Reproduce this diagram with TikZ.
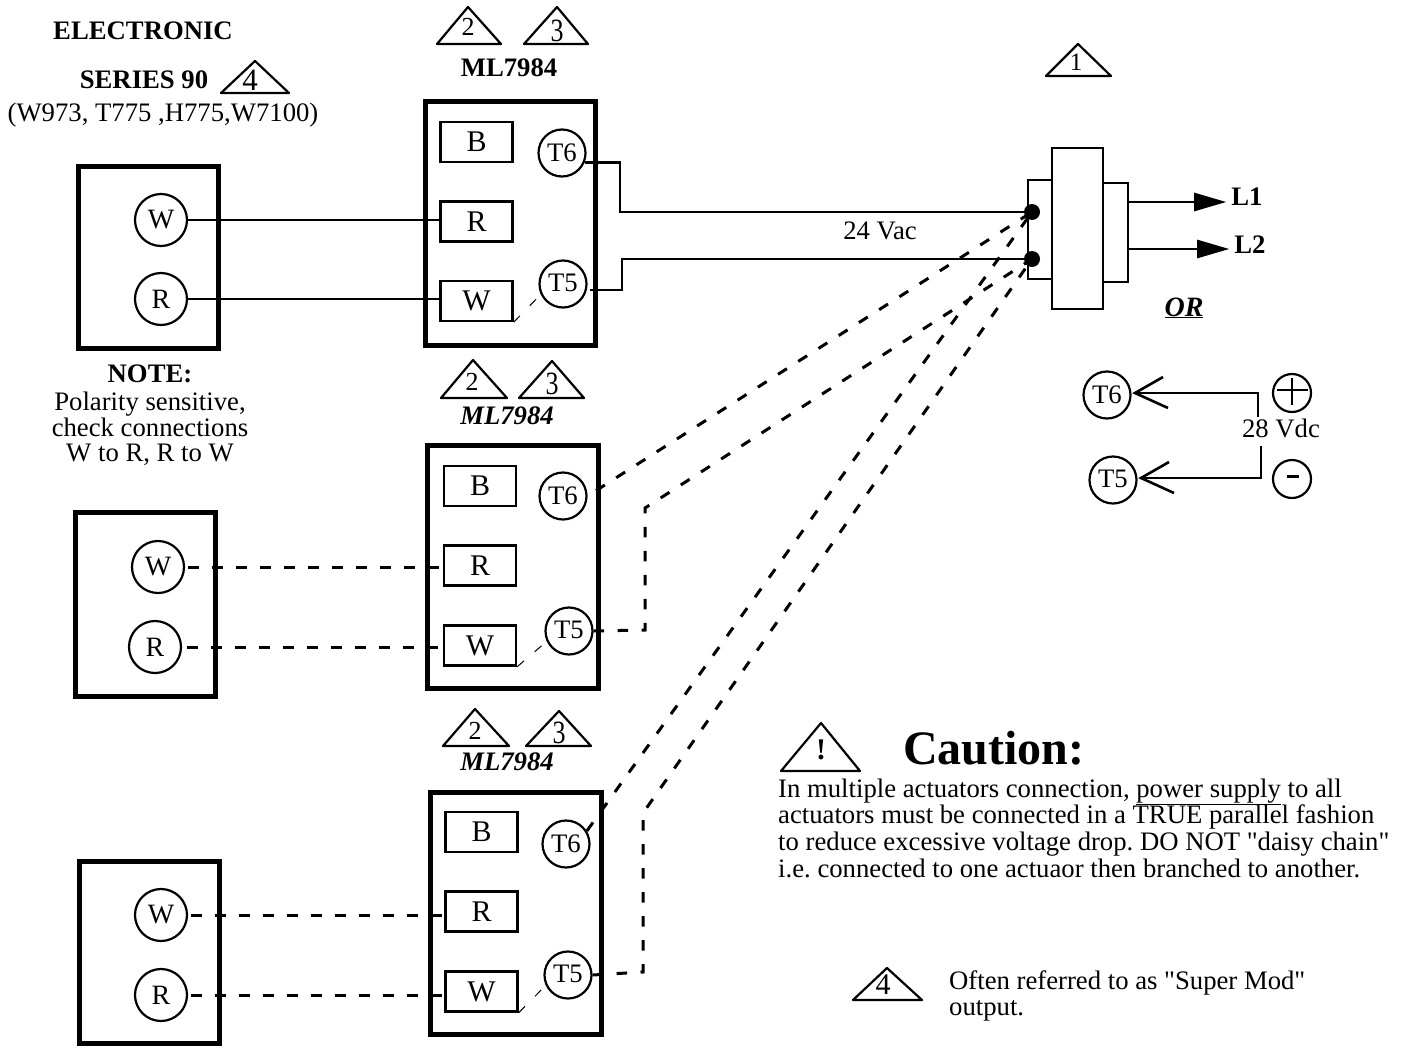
\documentclass[tikz,border=0pt]{standalone}
\usepackage{fontspec}
\setmainfont{Liberation Serif}
\newfontfamily\plainq{Liberation Serif}
\usetikzlibrary{arrows.meta}
\newcommand{\fs}[1]{\fontsize{#1}{#1}\selectfont}
\newcommand{\sq}{{\plainq\symbol{34}}}
\newcommand{\tri}[8]{\draw[tri] (#1,#2) -- (#3,#4) -- (#5,#4) -- cycle; \node[inner sep=0pt] (#8) at (#6,#7) {\tritext};}
\newcommand{\tritext}{}
\newcommand{\digit}[2]{\renewcommand{\tritext}{\fs{#1}#2}}
\tikzset{
 x=1pt,y=-1pt,
 wire/.style={line width=2.6pt},
 dwire/.style={line width=3pt,dash pattern=on 10.5pt off 13.5pt},
 thinw/.style={line width=1pt,dash pattern=on 9pt off 14pt},
 frame/.style={line width=5pt},
 lab/.style={inner sep=0pt,text height=18pt,text depth=2pt,font=\fs{26.7}},
 term/.style={draw,line width=2.4pt,minimum width=72pt,minimum height=40pt,inner sep=0pt,font=\fs{30}},
 circ/.style={draw,circle,line width=2.2pt,minimum size=52pt,inner sep=0pt,font=\fs{28}},
 tcirc/.style={draw,circle,line width=2.2pt,minimum size=47pt,inner sep=0pt,font=\fs{26.7}},
 signc/.style={draw,circle,line width=2.2pt,minimum size=38pt,inner sep=0pt},
 tri/.style={line width=2.2pt,line join=round,line cap=round},
 bold/.style={lab,font=\fs{26.7}\bfseries},
 ital/.style={lab,font=\fs{26.7}\bfseries\itshape},
 txt/.style={lab,anchor=west},
 head/.style={wire,-{Triangle[length=32pt,width=18pt]}},
}
\begin{document}
\frenchspacing
\begin{tikzpicture}
\useasboundingbox (0,0) rectangle (1405,1047);
% top labels
\node[bold] (t1) at (143,31) {ELECTRONIC};
\node[bold] (t2) at (144,80) {SERIES 90};
\node[lab] (t3) at (163,113) {(W973, T775 ,H775,W7100)};
\digit{26}{2}\tri{468}{7}{437}{44}{501}{468}{27}{tA}
\digit{26}{\scalebox{1}[1.25]{3}}\tri{557}{7}{524}{44}{588}{557}{31}{tB}
\node[bold] (m1) at (509,68) {ML7984};
\digit{31}{4}\tri{255}{61}{221}{93}{289}{250}{80}{tC}
\digit{25}{1}\tri{1078}{44}{1046}{76}{1111}{1076}{62}{tD}
% board 1
\draw[frame] (425,101) rectangle (595,345);
\draw[frame] (78,166) rectangle (218,348);
\node[term] (b1) at (476.5,142) {B};
\node[term] (r1) at (476.5,221.5) {R};
\node[term] (w1) at (476.5,301) {W};
\node[tcirc] (t61) at (562,153) {T6};
\node[tcirc] (t51) at (563,284) {\raisebox{2pt}{T5}};
\node[circ] (cw1) at (161,220) {W};
\node[circ] (cr1) at (161,299) {R};
\draw[wire] (cw1.east) -- (cw1.east -| r1.west);
\draw[wire] (cr1.east) -- (cr1.east -| w1.west);
\draw[thinw] (w1.south east) -- (t51.205);
\coordinate (d1) at (1032,212);
\coordinate (d2) at (1032,259);
\coordinate (c1) at (620,212);
\coordinate (c2) at (622,259);
\coordinate (p1) at (590,290);
\draw[wire] (t61.-22) -| (c1) -- (d1);
\draw[wire] (p1) -| (c2) -- (d2);
% transformer
\draw[wire,fill=white] (1028,180) rectangle (1052,279);
\draw[wire,fill=white] (1103,183) rectangle (1128,282);
\draw[wire,fill=white] (1052,148) rectangle (1103,309);
\fill (d1) circle (8pt) (d2) circle (8pt);
\node[bold] (l1) at (1247,197) {L1};
\node[bold] (l2) at (1250,245) {L2};
\coordinate (e1) at (1128,202);
\coordinate (e2) at (1128,249);
\draw[head,shorten >=5pt] (e1) -- (l1.west |- e1);
\draw[head,shorten >=5pt] (e2) -- (l2.west |- e2);
\node[lab] (v24) at (880,231) {24 Vac};
\node[ital,font=\fs{28}\bfseries\itshape] (or) at (1184,308) {\underline{OR}};
% DC
\node[tcirc] (dt6) at (1107,395) {T6};
\node[tcirc] (dt5) at (1113,480) {\raisebox{2pt}{T5}};
\node[signc] (plus) at (1292,393) {};
\draw[line width=1.8pt] (1277,390)--(1308,390) (1292,378)--(1292,405);
\node[signc] (minus) at (1292,479) {};
\draw[line width=3pt] (1287,476)--(1299,476);
\node[lab] (v28) at (1281,429) {28 Vdc};
\coordinate (a1) at (1135,393);
\coordinate (a2) at (1141,478);
\draw[wire] (1258,417) |- (a1);
\draw[wire] (1261,446) |- (a2);
\draw[wire] (1163,377) -- (a1) -- (1168,408);
\draw[wire] (1169,462) -- (a2) -- (1174,493);
% note
\node[bold] (n0) at (150,374) {NOTE:};
\node[lab] (n1) at (150,402) {Polarity sensitive,};
\node[lab] (n2) at (150,428) {check connections};
\node[lab] (n3) at (150,453) {W to R, R to W};
% board 2
\digit{26}{2}\tri{473}{360}{441}{398}{507}{472}{382}{tE}
\digit{26}{\scalebox{1}[1.25]{3}}\tri{552}{361}{519}{398}{584}{552}{384}{tF}
\node[ital] (m2) at (507,416) {ML7984};
\draw[frame] (427,445) rectangle (598,688);
\draw[frame] (75.5,512.5) rectangle (215,696);
\node[term] (b2) at (480,486) {B};
\node[term] (r2) at (480,565.5) {R};
\node[term] (w2) at (480,645.5) {W};
\node[tcirc] (t62) at (563,496) {T6};
\node[tcirc] (t52) at (569,631) {\raisebox{3pt}{T5}};
\node[circ] (cw2) at (158,567) {W};
\node[circ] (cr2) at (155,647) {R};
\draw[dwire,shorten <=3pt] (cw2.east) -- (cw2.east -| r2.west);
\draw[dwire,shorten <=5pt] (cr2.east) -- (cr2.east -| w2.west);
\draw[thinw] (w2.south east) -- (t52.205);
\draw[dwire,shorten <=10pt] (t62.east) -- (d1);
\draw[dwire] (t52.east) -- (645,630) -- (645,508) -- (d2);
% board 3
\digit{26}{2}\tri{475}{709}{443}{746}{509}{475}{731}{tG}
\digit{26}{\scalebox{1}[1.25]{3}}\tri{559}{711}{526}{746}{591}{559}{733}{tH}
\node[ital] (m3) at (507,762) {ML7984};
\draw[frame] (430,792) rectangle (601,1034);
\draw[frame] (79,861) rectangle (219,1043);
\node[term] (b3) at (481.5,832) {B};
\node[term] (r3) at (481.5,911.5) {R};
\node[term] (w3) at (481.5,991.5) {W};
\node[tcirc] (t63) at (566,844) {T6};
\node[tcirc] (t53) at (568,975) {\raisebox{3pt}{T5}};
\node[circ] (cw3) at (161,915) {W};
\node[circ] (cr3) at (161,995) {R};
\draw[dwire,shorten <=3pt] (cw3.east) -- (cw3.east -| r3.west);
\draw[dwire,shorten <=3pt] (cr3.east) -- (cr3.east -| w3.west);
\draw[thinw] (w3.south east) -- (t53.205);
\draw[dwire] (t63.32) -- (d1);
\draw[dwire] (t53.east) -- (643,972) -- (643,813) -- (d2);
% caution
\draw[tri] (821,723) -- (781,771) -- (860,771) -- cycle;
\node[inner sep=0pt,font=\fs{30}\bfseries] (ex) at (821,750) {!};
\node[inner sep=0pt,font=\fs{48}\bfseries,anchor=west] (cau) at (903,748) {Caution:};
\node[txt] (c1) at (778,789) {In multiple actuators connection, \underline{power supply} to all};
\node[txt] (c2) at (778,815.5) {actuators must be connected in a TRUE parallel fashion};
\node[txt] (c3) at (778,842) {to reduce excessive voltage drop. DO NOT \sq daisy chain\sq};
\node[txt] (c4) at (778,869) {i.e. connected to one actuaor then branched to another.};
\digit{30}{4}\tri{887}{968}{853}{1000}{922}{883}{985}{tI}
\node[txt] (o1) at (949,981) {Often referred to as \sq Super Mod\sq};
\node[txt] (o2) at (949,1007) {output.};
\end{tikzpicture}
\end{document}
